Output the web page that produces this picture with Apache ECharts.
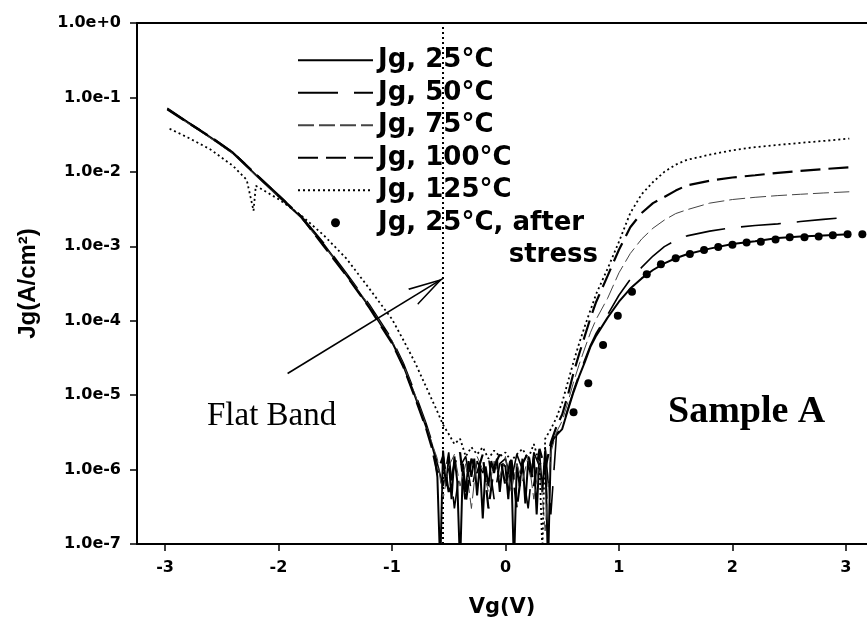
<!DOCTYPE html>
<html>
<head>
<meta charset="UTF-8">
<title>Jg - Vg, Sample A</title>
<style>
	html, body { margin: 0; padding: 0; background: #fff; }
	#myChart { width: 867px; height: 626px; }
</style>
</head>
<body>
<div id="myChart"></div>
<script src="https://cdn.jsdelivr.net/npm/echarts@6/dist/echarts.min.js"></script>
<script>
	// names shown in the legend
	var seriesNames = ['Jg, 25°C', 'Jg, 50°C', 'Jg, 75°C', 'Jg, 100°C', 'Jg, 125°C', 'Jg, 25°C, after stress'];
	var xTicks = [-3, -2, -1, 0, 1, 2, 3];

	// shared Vg grids (V)
	var vgLeft = [-2.98, -2.8, -2.6, -2.4, -2.2, -2.0, -1.8, -1.6, -1.4, -1.2, -1.0, -0.9, -0.8, -0.7, -0.65];
	var vgValley = [-0.6, -0.55, -0.5, -0.45, -0.4, -0.35, -0.3, -0.25, -0.2, -0.15, -0.1, -0.05, 0, 0.05, 0.1, 0.15, 0.2, 0.25, 0.3, 0.35, 0.4, 0.45];
	var vgRight = [0.5, 0.55, 0.6, 0.65, 0.7, 0.75, 0.8, 0.9, 1.0, 1.1, 1.2, 1.3, 1.4, 1.5, 1.6, 1.8, 2.0, 2.2, 2.4, 2.6, 2.8, 3.03];

	// 25°C
	var vgValley25 = [-0.625, -0.6, -0.575, -0.55, -0.525, -0.5, -0.475, -0.45, -0.425, -0.4, -0.375, -0.35, -0.325, -0.3, -0.275, -0.25, -0.225, -0.2, -0.175, -0.15, -0.125, -0.1, -0.075, -0.05, -0.025, 0, 0.025, 0.05, 0.075, 0.1, 0.125, 0.15, 0.175, 0.2, 0.225, 0.25, 0.275, 0.3, 0.325, 0.35, 0.375, 0.4, 0.425, 0.45];
	var jg25Left = [7.0e-2, 4.6e-2, 2.9e-2, 1.78e-2, 9.1e-3, 4.7e-3, 2.45e-3, 1.05e-3, 4.1e-4, 1.55e-4, 5.2e-5, 2.5e-5, 1.0e-5, 3.8e-6, 2.2e-6];
	var jg25Valley = [1.6e-6, 8e-7, 5e-8, 1.8e-6, 6e-7, 1.4e-6, 4e-7, 1.5e-6, 7e-7, 5e-8, 1.2e-6, 5e-7, 1.3e-6, 8e-7, 1.4e-6, 4.5e-7, 1.2e-6, 2.2e-7, 1.1e-6, 6e-7, 1.3e-6, 9e-7, 1.4e-6, 5e-7, 1.2e-6, 1.1e-6, 4e-7, 1.3e-6, 5e-8, 1.2e-6, 6e-7, 1.4e-6, 3.5e-7, 1.3e-6, 8e-7, 1.5e-6, 2.5e-7, 1.6e-6, 5e-7, 1.8e-6, 5e-8, 2.0e-6, 2.6e-6, 2.9e-6];
	var jg25Right = [3.5e-6, 6.3e-6, 1.1e-5, 1.8e-5, 2.8e-5, 4.5e-5, 6.3e-5, 1.1e-4, 1.8e-4, 2.7e-4, 3.7e-4, 4.8e-4, 5.9e-4, 6.9e-4, 7.8e-4, 9.3e-4, 1.07e-3, 1.17e-3, 1.29e-3, 1.35e-3, 1.4e-3, 1.45e-3];

	// 50°C
	var jg50Left = [7.2e-2, 4.7e-2, 3.0e-2, 1.82e-2, 9.4e-3, 4.9e-3, 2.55e-3, 1.1e-3, 4.3e-4, 1.65e-4, 5.6e-5, 2.7e-5, 1.1e-5, 4.2e-6, 2.4e-6];
	var jg50Valley = [1.2e-6, 6e-7, 1.7e-6, 3e-7, 1.1e-6, 1.5e-6, 5e-7, 1.3e-6, 9e-7, 1.5e-6, 4e-7, 1.2e-6, 1.4e-6, 7e-7, 1.6e-6, 1.0e-6, 3e-7, 1.7e-6, 1.1e-6, 2.0e-6, 2.5e-7, 3.0e-6];
	var jg50Right = [3.8e-6, 6.5e-6, 1.15e-5, 1.9e-5, 3.0e-5, 4.7e-5, 6.8e-5, 1.2e-4, 2.2e-4, 3.6e-4, 5.2e-4, 7.4e-4, 9.9e-4, 1.2e-3, 1.38e-3, 1.6e-3, 1.78e-3, 1.9e-3, 2.0e-3, 2.15e-3, 2.3e-3, 2.45e-3];

	// 75°C
	var jg75Left = [7.1e-2, 4.5e-2, 2.85e-2, 1.74e-2, 8.9e-3, 4.6e-3, 2.4e-3, 1.02e-3, 4.2e-4, 1.6e-4, 5.4e-5, 2.6e-5, 1.05e-5, 4.0e-6, 2.3e-6];
	var jg75Valley = [1.4e-6, 4e-7, 1.1e-6, 1.6e-6, 6e-7, 1.2e-6, 3e-7, 1.5e-6, 1.0e-6, 5e-7, 1.3e-6, 8e-7, 1.5e-6, 5e-7, 1.2e-6, 7e-7, 1.5e-6, 4e-7, 1.3e-6, 1.5e-7, 1.7e-6, 3.2e-6];
	var jg75Right = [4.5e-6, 8e-6, 1.5e-5, 2.6e-5, 4.3e-5, 7e-5, 1.05e-4, 2.0e-4, 4.4e-4, 8e-4, 1.25e-3, 1.75e-3, 2.25e-3, 2.75e-3, 3.1e-3, 3.8e-3, 4.25e-3, 4.55e-3, 4.8e-3, 5.0e-3, 5.2e-3, 5.4e-3];

	// 100°C
	var jg100Left = [6.9e-2, 4.6e-2, 2.95e-2, 1.8e-2, 9.3e-3, 4.8e-3, 2.5e-3, 1.0e-3, 4.0e-4, 1.5e-4, 5.0e-5, 2.4e-5, 9.5e-6, 3.6e-6, 2.0e-6];
	var jg100Valley = [9e-7, 1.5e-6, 5e-7, 1.2e-6, 1.7e-6, 3.5e-7, 1.4e-6, 9e-7, 1.6e-6, 3e-7, 1.1e-6, 1.6e-6, 6e-7, 1.5e-6, 3e-7, 1.2e-6, 1.7e-6, 6e-7, 1.9e-6, 1.0e-6, 2.3e-6, 3.8e-6];
	var jg100Right = [5.5e-6, 1.0e-5, 2.0e-5, 3.6e-5, 6.3e-5, 1.1e-4, 1.8e-4, 4.0e-4, 9e-4, 1.8e-3, 2.8e-3, 3.8e-3, 4.6e-3, 5.6e-3, 6.6e-3, 7.6e-3, 8.4e-3, 9.0e-3, 9.7e-3, 1.03e-2, 1.09e-2, 1.15e-2];

	// 125°C
	var vg125Left = [-2.96, -2.8, -2.6, -2.4, -2.28, -2.22, -2.2, -2.0, -1.8, -1.6, -1.4, -1.2, -1.0, -0.9, -0.8, -0.7, -0.6, -0.55];
	var jg125Left = [3.8e-2, 2.9e-2, 2.0e-2, 1.2e-2, 7.8e-3, 3.0e-3, 6.5e-3, 4.3e-3, 2.6e-3, 1.4e-3, 6.8e-4, 2.7e-4, 1.05e-4, 5.5e-5, 2.8e-5, 1.3e-5, 6e-6, 4e-6];
	var vg125Valley = [-0.5, -0.45, -0.4, -0.35, -0.3, -0.25, -0.2, -0.15, -0.1, -0.05, 0, 0.05, 0.1, 0.15, 0.2, 0.25, 0.3, 0.325, 0.35, 0.4, 0.45];
	var jg125Valley = [3.0e-6, 2.2e-6, 2.6e-6, 1.5e-6, 2.0e-6, 1.6e-6, 2.0e-6, 1.4e-6, 1.8e-6, 1.5e-6, 1.7e-6, 1.3e-6, 1.6e-6, 1.9e-6, 1.4e-6, 2.2e-6, 1.2e-6, 8e-8, 2.6e-6, 3.5e-6, 5e-6];
	var jg125Right = [8e-6, 1.5e-5, 2.8e-5, 5e-5, 8.5e-5, 1.4e-4, 2.3e-4, 5e-4, 1.15e-3, 2.8e-3, 5.0e-3, 7.3e-3, 1.0e-2, 1.25e-2, 1.45e-2, 1.7e-2, 1.95e-2, 2.15e-2, 2.3e-2, 2.45e-2, 2.6e-2, 2.8e-2];

	// 25°C after stress (points)
	var vgStress = [0.60, 0.73, 0.86, 0.99, 1.115, 1.245, 1.37, 1.50, 1.625, 1.75, 1.875, 2.0, 2.125, 2.25, 2.38, 2.505, 2.635, 2.76, 2.885, 3.015, 3.145];
	var jgStress = [5.9e-6, 1.45e-5, 4.7e-5, 1.17e-4, 2.45e-4, 4.2e-4, 5.75e-4, 6.9e-4, 7.9e-4, 8.9e-4, 9.8e-4, 1.05e-3, 1.12e-3, 1.15e-3, 1.23e-3, 1.32e-3, 1.32e-3, 1.35e-3, 1.41e-3, 1.45e-3, 1.45e-3];

	// annotations
	var flatBandVg = -0.55;
	var arrowFrom = [-1.92, 1.95e-5];
	var arrowTo = [-0.55, 3.7e-4];

	function pairs(xs, ys) {
		var out = [];
		for (var i = 0; i < xs.length; i++) {
			out.push([xs[i], ys[i]]);
		}
		return out;
	}

	var boldSans = 'DejaVu Sans';
	var arrowHead = 'path://M0,-35L0.01,-35L0,-34.99Z M0,0L9.3,34.8L7.7,34.8L0,5.8L-7.7,34.8L-9.3,34.8Z';

	var myChart = echarts.init(document.getElementById('myChart'));

	function lineSeries(name, data, width, type, color) {
		return {
			name: name,
			type: 'line',
			data: data,
			symbol: 'none',
			showSymbol: false,
			clip: true,
			color: color,
			lineStyle: { color: color, width: width, type: type },
			z: 3
		};
	}

	var s25 = lineSeries(seriesNames[0], pairs(vgLeft.concat(vgValley25, vgRight), jg25Left.concat(jg25Valley, jg25Right)), 2, 'solid', '#000');
	s25.markLine = {
		silent: true,
		symbol: 'none',
		animation: false,
		label: { show: false },
		lineStyle: { color: '#000', width: 2, type: [2, 3] },
		data: [{ xAxis: flatBandVg }]
	};
	var s50 = lineSeries(seriesNames[1], pairs(vgLeft.concat(vgValley, vgRight), jg50Left.concat(jg50Valley, jg50Right)), 1.6, [40, 16], '#000');
	s50.markLine = {
		silent: true,
		animation: false,
		symbol: ['none', arrowHead],
		symbolSize: [19, 70],
		label: { show: false },
		lineStyle: { color: '#000', width: 1.6, type: 'solid' },
		data: [[{ coord: arrowFrom }, { coord: arrowTo }]]
	};
	var s75 = lineSeries(seriesNames[2], pairs(vgLeft.concat(vgValley, vgRight), jg75Left.concat(jg75Valley, jg75Right)), 1, [16, 5], '#444');
	var s100 = lineSeries(seriesNames[3], pairs(vgLeft.concat(vgValley, vgRight), jg100Left.concat(jg100Valley, jg100Right)), 2.2, [20, 8], '#000');
	var s125 = lineSeries(seriesNames[4], pairs(vg125Left.concat(vg125Valley, vgRight), jg125Left.concat(jg125Valley, jg125Right)), 1.8, [2, 3], '#000');
	var sStress = {
		name: seriesNames[5],
		type: 'scatter',
		data: pairs(vgStress, jgStress),
		symbol: 'circle',
		symbolSize: 8,
		color: '#000',
		itemStyle: { color: '#000', opacity: 1 },
		z: 4
	};

	// legend entries: line icons without the symbol dot
	var legendData = seriesNames.map(function(n, i) {
		if (i < 5) return { name: n, itemStyle: { opacity: 0 } };
		return { name: n, icon: 'circle', itemStyle: { color: '#000', opacity: 1 } };
	});

	var options = {
		animation: false,
		backgroundColor: '#fff',
		grid: { left: 137, right: 0, top: 23, bottom: 82, containLabel: false },
		legend: {
			orient: 'vertical',
			left: 297,
			top: 44,
			padding: 0,
			itemGap: 0,
			itemWidth: 75,
			itemHeight: 9,
			selectedMode: false,
			data: legendData,
			formatter: function(name) {
				return name === seriesNames[5] ? 'Jg, 25°C, after' : name;
			},
			textStyle: { fontFamily: boldSans, fontWeight: 'bold', fontSize: 26, color: '#000', lineHeight: 32.5 }
		},
		graphic: [
			{ type: 'text', right: 867 - 598, top: 255 - 16, style: { text: 'stress', fontFamily: boldSans, fontWeight: 'bold', fontSize: 26, fill: '#000', lineHeight: 32 } },
			{ type: 'text', left: 207, top: 416 - 18, style: { text: 'Flat Band', fontFamily: 'Liberation Serif', fontSize: 33, fill: '#000', lineHeight: 36 } },
			{ type: 'text', left: 668, top: 412 - 22, style: { text: 'Sample A', fontFamily: 'Liberation Serif', fontWeight: 'bold', fontSize: 38, fill: '#000', lineHeight: 44 } }
		],
		xAxis: [{
			type: 'value',
			min: -3.247,
			max: 3.186,
			name: 'Vg(V)',
			nameLocation: 'middle',
			nameGap: 53,
			nameTextStyle: { fontFamily: boldSans, fontWeight: 'bold', fontSize: 21, color: '#000' },
			axisLine: { onZero: false, lineStyle: { color: '#000', width: 2 } },
			axisTick: { show: true, inside: false, length: 7, customValues: xTicks, lineStyle: { color: '#000', width: 1.5 } },
			axisLabel: { customValues: xTicks, margin: 16, fontFamily: boldSans, fontWeight: 'bold', fontSize: 16, color: '#000' },
			splitLine: { show: false }
		}, {
			type: 'value',
			position: 'top',
			min: -3.247,
			max: 3.186,
			axisLine: { show: true, onZero: false, lineStyle: { color: '#000', width: 2 } },
			axisTick: { show: false },
			axisLabel: { show: false },
			splitLine: { show: false }
		}],
		yAxis: {
			type: 'log',
			logBase: 10,
			min: 1e-7,
			max: 1,
			name: 'Jg(A/cm²)',
			nameLocation: 'middle',
			nameGap: 97,
			nameRotate: 90,
			nameTextStyle: { fontFamily: 'Liberation Sans', fontWeight: 'bold', fontSize: 24, color: '#000' },
			axisLine: { show: true, onZero: false, lineStyle: { color: '#000', width: 2 } },
			axisTick: { show: true, inside: false, length: 7, lineStyle: { color: '#000', width: 1.5 } },
			axisLabel: {
				margin: 16,
				fontFamily: boldSans,
				fontWeight: 'bold',
				fontSize: 16,
				color: '#000',
				formatter: function(v) {
					var e = Math.round(Math.log10(v));
					return '1.0e' + (e >= 0 ? '+' : '') + e;
				}
			},
			splitLine: { show: false },
			minorTick: { show: false }
		},
		series: [s25, s50, s75, s100, s125, sStress]
	};

	myChart.setOption(options);
</script>
</body>
</html>
